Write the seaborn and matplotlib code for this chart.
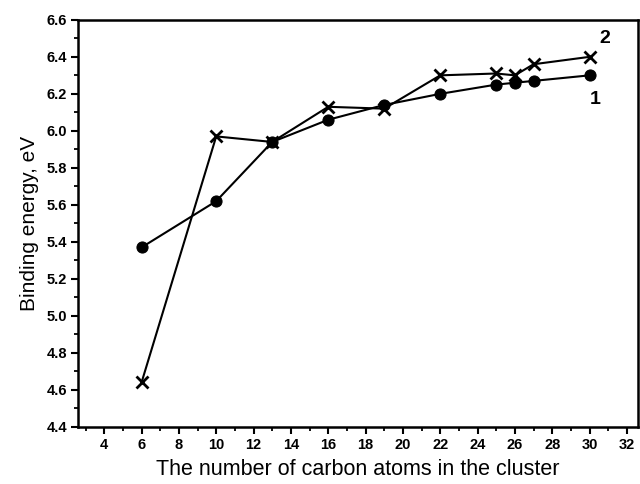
import matplotlib
matplotlib.use("Agg")
import matplotlib.pyplot as plt
from matplotlib.ticker import MultipleLocator, FixedLocator
import seaborn as sns
import pandas as pd

n_atoms = [6, 10, 13, 16, 19, 22, 25, 26, 27, 30]
energy_1 = [5.37, 5.62, 5.94, 6.06, 6.14, 6.20, 6.25, 6.26, 6.27, 6.30]
energy_2 = [4.64, 5.97, 5.94, 6.13, 6.12, 6.30, 6.31, 6.30, 6.36, 6.40]
x_ticks = list(range(4, 33, 2))
y_ticks = [4.4, 4.6, 4.8, 5.0, 5.2, 5.4, 5.6, 5.8, 6.0, 6.2, 6.4, 6.6]

sns.set_style("ticks")
plt.rcParams['font.family'] = ['Liberation Sans', 'DejaVu Sans']
plt.rcParams['text.color'] = 'black'
plt.rcParams['axes.labelcolor'] = 'black'
plt.rcParams['xtick.color'] = 'black'
plt.rcParams['ytick.color'] = 'black'

df1 = pd.DataFrame({"n": n_atoms, "E": energy_1})
df2 = pd.DataFrame({"n": n_atoms, "E": energy_2})

fig = plt.figure(figsize=(6.4, 4.84), dpi=100)
ax = fig.add_axes([0.122, 0.118, 0.875, 0.841])

sns.lineplot(data=df1, x="n", y="E", ax=ax, color="black", linewidth=1.5,
             marker="o", markersize=8, markeredgecolor="black", markerfacecolor="black")
sns.lineplot(data=df2, x="n", y="E", ax=ax, color="black", linewidth=1.5,
             marker="x", markersize=8, markeredgewidth=2.0, markeredgecolor="black")

ax.set_xlim(2.6, 32.6)
ax.set_ylim(4.4, 6.6)
ax.xaxis.set_major_locator(FixedLocator(x_ticks))
ax.xaxis.set_minor_locator(MultipleLocator(1))
ax.yaxis.set_major_locator(FixedLocator(y_ticks))
ax.yaxis.set_minor_locator(MultipleLocator(0.1))
ax.set_xticklabels([str(t) for t in x_ticks])
ax.set_yticklabels([f"{t:.1f}" for t in y_ticks])

for s in ax.spines.values():
    s.set_linewidth(1.8)
    s.set_color("black")
ax.tick_params(axis="both", which="major", direction="out", length=5, width=1.5,
               labelsize=10.5, colors="black", pad=3)
ax.tick_params(axis="both", which="minor", direction="out", length=3, width=1.3)
for lab in ax.get_xticklabels() + ax.get_yticklabels():
    lab.set_fontweight("bold")

ax.set_xlabel("The number of carbon atoms in the cluster", fontsize=15.5, labelpad=5, color="black")
ax.set_ylabel("Binding energy, eV", fontsize=15, labelpad=5, color="black")

ax.text(30.8, 6.50, "2", fontsize=14, fontweight="bold", ha="center", va="center", color="black")
ax.text(30.3, 6.17, "1", fontsize=14, fontweight="bold", ha="center", va="center", color="black")

fig.savefig("out.png", dpi=100)
